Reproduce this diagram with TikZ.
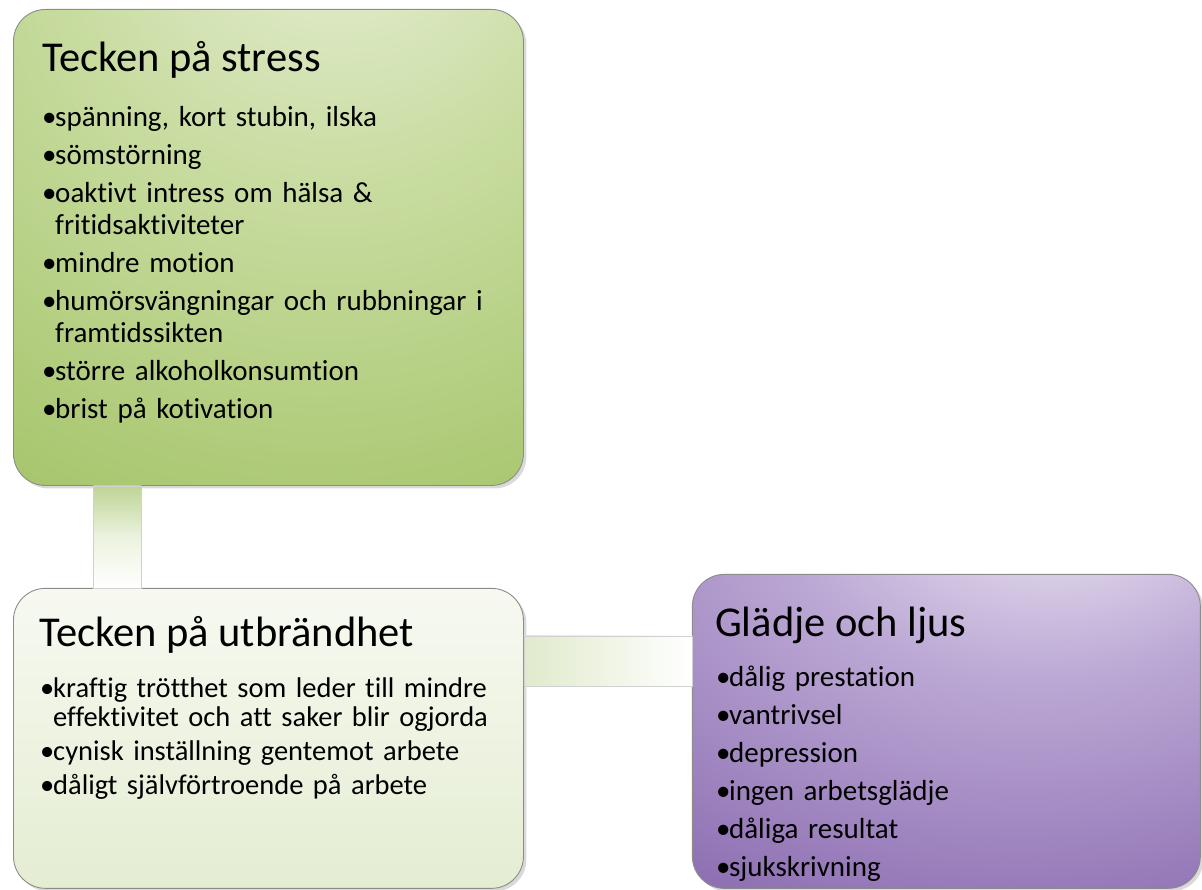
\documentclass[tikz,border=0pt]{standalone}
\usepackage{fontspec}
\setmainfont{Carlito}[Ligatures={NoCommon}]
\usetikzlibrary{positioning,shadows}

\definecolor{stressglow}{RGB}{236,242,224}
\definecolor{stressmid}{RGB}{200,220,160}
\definecolor{stressdark}{RGB}{160,193,98}
\definecolor{burntop}{RGB}{247,249,241}
\definecolor{burnmid}{RGB}{215,229,186}
\definecolor{burnbottom}{RGB}{228,237,210}
\definecolor{gladglow}{RGB}{244,241,247}
\definecolor{gladmid}{RGB}{188,169,213}
\definecolor{gladdark}{RGB}{140,109,177}
\definecolor{linkgreen}{RGB}{190,213,148}
\definecolor{linkpale}{RGB}{224,234,203}

\pgfdeclareradialshading{stressshade}{\pgfpoint{8bp}{42bp}}{color(0bp)=(stressglow); color(26bp)=(stressmid); color(60bp)=(stressdark); color(110bp)=(stressdark)}
\pgfdeclareradialshading{gladshade}{\pgfpoint{12bp}{42bp}}{color(0bp)=(gladglow); color(24bp)=(gladmid); color(56bp)=(gladdark); color(110bp)=(gladdark)}

\newcommand{\listentry}[1]{\par\hangindent=13pt\hangafter=1\noindent\makebox[13pt][l]{\textbullet}#1}

\begin{document}
\begin{tikzpicture}[
    x=1pt, y=-1pt,
    panel/.style={rounded corners=32pt, draw=black!45, line width=0.9pt, inner sep=0pt,
        anchor=north west, drop shadow={shadow xshift=3pt, shadow yshift=-3pt, opacity=0.3}},
    heading/.style={font=\fontsize{42.5}{46}\selectfont, inner sep=0pt, anchor=base west},
    itemlist/.style={font=\fontsize{29}{32}\selectfont, text width=480pt, align=left,
        inner sep=0pt, anchor=base west, execute at begin node={\setlength{\parskip}{6pt}}},
    link/.style={draw=black!18, line width=0.8pt}
]
\useasboundingbox (0,0) rectangle (1202,890);
\node[panel, shading=stressshade, minimum width=510pt, minimum height=476pt] (stress) at (13,9) {};
\node[panel, top color=burntop, middle color=burnmid, bottom color=burnbottom,
    minimum width=510pt, minimum height=300pt, below right=102pt and 0pt of stress.south west] (burnout) {};
\node[panel, shading=gladshade, minimum width=508pt, minimum height=314pt,
    above right=0pt and 168pt of burnout.south east] (glad) {};
\node[heading] (stresshead) at ([shift={(29,63)}]stress.north west) {Tecken på stress};
\node[itemlist] (stresslist) at ([shift={(29,80)}]stress.north west) {%
    \listentry{spänning, kort stubin, ilska}
    \listentry{sömstörning}
    \listentry{oaktivt intress om hälsa \&\newline fritidsaktiviteter}
    \listentry{mindre motion}
    \listentry{humörsvängningar och rubbningar i\newline framtidssikten}
    \listentry{större alkoholkonsumtion}
    \listentry{brist på kotivation}};
\node[heading] (burnhead) at ([shift={(26,59)}]burnout.north west) {Tecken på utbrändhet};
\node[itemlist, font=\fontsize{28.5}{29}\selectfont, execute at begin node={\setlength{\parskip}{5pt}}]
    (burnlist) at ([shift={(27,76)}]burnout.north west) {%
    \listentry{kraftig trötthet som leder till mindre\newline effektivitet och att saker blir ogjorda}
    \listentry{cynisk inställning gentemot arbete}
    \listentry{dåligt självförtroende på arbete}};
\node[heading] (gladhead) at ([shift={(23,63)}]glad.north west) {Glädje och ljus};
\node[itemlist] (gladlist) at ([shift={(24,75)}]glad.north west) {%
    \listentry{dålig prestation}
    \listentry{vantrivsel}
    \listentry{depression}
    \listentry{ingen arbetsglädje}
    \listentry{dåliga resultat}
    \listentry{sjukskrivning}};
\path[link, top color=linkgreen, bottom color=white, middle color=white!70!linkgreen]
    ([xshift=80pt]stress.south west) rectangle ([xshift=128pt]burnout.north west);
\path[link, left color=linkpale, right color=white]
    ([yshift=-48pt]burnout.north east) rectangle ([yshift=-112pt]glad.north west);
\end{tikzpicture}
\end{document}
